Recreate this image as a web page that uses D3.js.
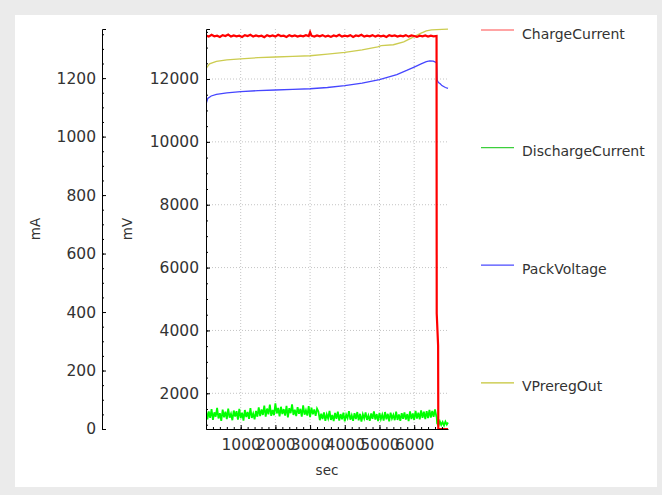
<!DOCTYPE html>
<html>
<head>
<meta charset="utf-8">
<script src="https://cdn.jsdelivr.net/npm/d3@7"></script>
<style>
  body { margin: 0; background: #ebebeb; }
  svg { display: block; font-family: "DejaVu Sans", sans-serif; }
  .axis text { fill: #333; font-size: 15.5px; font-family: "DejaVu Sans", sans-serif; }
  .axis path, .axis line { stroke: #000; }
  .grid line { stroke: #c4c4c4; stroke-dasharray: 1,2; }
  .axis-title { fill: #333; font-size: 13.5px; }
  .legend-label { fill: #333; font-size: 14px; }
</style>
</head>
<body>
<svg id="chart" width="662" height="495"></svg>
<script>
// axis ranges and tick values
const secRange = [0, 6975];
const mARange = [0, 1368];
const mVRange = [864, 13591];
const secTicks = [1000, 2000, 3000, 4000, 5000, 6000];
const mATicks = [0, 200, 400, 600, 800, 1000, 1200];
const mVTicks = [2000, 4000, 6000, 8000, 10000, 12000];

const seriesNames = ['ChargeCurrent', 'DischargeCurrent', 'PackVoltage', 'VPreregOut'];
const seriesColors = ['#ff0000', '#00ff00', '#4646ff', '#cccc50'];
const legendColors = ['#ff4a4a', '#3ccf3c', '#4a4aff', '#c4c436'];

// ChargeCurrent, mA  [sec, value]
const chargeCurrent = [
  [0, 1346], [80, 1342], [160, 1348], [240, 1343], [320, 1345], [400, 1341], [480, 1347],
  [560, 1344], [640, 1349], [720, 1342], [800, 1346], [880, 1343], [960, 1345], [1040, 1341],
  [1120, 1347], [1200, 1344], [1280, 1348], [1360, 1342], [1440, 1346], [1520, 1343],
  [1600, 1345], [1680, 1340], [1760, 1347], [1840, 1343], [1920, 1346], [2000, 1342],
  [2080, 1348], [2160, 1344], [2240, 1345], [2320, 1341], [2400, 1347], [2480, 1343],
  [2560, 1346], [2640, 1342], [2720, 1345], [2800, 1343], [2880, 1347], [2960, 1344],
  [3000, 1357], [3040, 1345], [3120, 1342], [3200, 1346], [3280, 1343], [3360, 1347],
  [3440, 1342], [3520, 1345], [3600, 1341], [3680, 1346], [3760, 1343], [3840, 1348],
  [3920, 1342], [4000, 1345], [4080, 1343], [4160, 1347], [4240, 1341], [4320, 1346],
  [4400, 1344], [4480, 1348], [4560, 1342], [4640, 1345], [4720, 1343], [4800, 1347],
  [4880, 1342], [4960, 1346], [5040, 1343], [5120, 1345], [5200, 1341], [5280, 1347],
  [5360, 1344], [5440, 1346], [5520, 1342], [5600, 1345], [5680, 1343], [5760, 1347],
  [5840, 1342], [5920, 1346], [6000, 1344], [6080, 1341], [6160, 1345], [6240, 1343],
  [6320, 1346], [6400, 1342], [6480, 1345], [6560, 1343], [6645, 1344],
  [6650, 395], [6690, 285], [6695, 0], [6975, 0]
];

// DischargeCurrent, mA, one sample every 40 sec from 0 to 6640
const dischargeStep = 40;
const dischargeCurrent = [
  64, 33, 60, 38, 68, 31, 57, 42, 72, 36, 54, 28, 66, 40, 59, 34, 70, 39, 52, 30,
  63, 43, 61, 32, 69, 37, 56, 29, 65, 41, 58, 35, 71, 38, 53, 33, 62, 42,
  74, 44, 67, 48, 80, 42, 70, 50, 83, 45, 65, 47, 88, 53, 72, 43, 76, 51, 68, 46,
  79, 40, 71, 54, 84, 48, 66, 44, 75, 52, 69, 42, 81, 49, 64, 46, 78, 41, 73, 50, 67, 45, 70,
  60, 30, 52, 34, 57, 28, 50, 36, 62, 31, 48, 27, 55, 35, 59, 29, 51, 33, 56, 26,
  49, 37, 61, 32, 47, 28, 54, 34, 58, 30, 52, 25, 50, 36, 57, 31, 46, 28, 53, 35,
  60, 32, 51, 27, 55, 34, 49, 29, 58, 33, 52, 26, 56, 36, 48, 30, 59, 31, 50, 28,
  54, 35, 57, 32, 51, 27, 60, 34, 53, 31, 62, 36, 56, 33, 64, 38, 59, 34, 61, 37,
  65, 39, 62, 42, 67, 43
];
// DischargeCurrent after the charge stops  [sec, value]
const dischargeTail = [
  [6650, 40], [6660, 20], [6700, 12], [6740, 26], [6780, 14], [6820, 24],
  [6860, 12], [6900, 25], [6940, 15], [6975, 22]
];

// PackVoltage, mV  [sec, value]
const packVoltage = [
  [0, 11200], [50, 11380], [150, 11460], [300, 11510], [600, 11560], [1000, 11600],
  [1500, 11630], [2000, 11650], [2500, 11670], [3000, 11690], [3500, 11730], [4000, 11790],
  [4500, 11870], [5000, 11980], [5500, 12140], [5800, 12280], [6000, 12380], [6200, 12480],
  [6350, 12550], [6450, 12575], [6550, 12570], [6645, 12520], [6652, 12300], [6660, 11970],
  [6700, 11890], [6750, 11850], [6800, 11790], [6900, 11730], [6975, 11700]
];

// VPreregOut, mV  [sec, value]
const vPreregOut = [
  [0, 0], [5, 12340], [100, 12480], [300, 12560], [600, 12610], [1000, 12640],
  [1500, 12680], [2000, 12700], [2500, 12720], [3000, 12740], [3500, 12790], [4000, 12850],
  [4500, 12930], [4950, 13020], [5050, 13060], [5400, 13090], [5700, 13180], [6000, 13350],
  [6200, 13460], [6350, 13530], [6500, 13560], [6650, 13570], [6800, 13580], [6975, 13590]
];

const svg = d3.select('#chart');
const plot = { left: 206, right: 448, top: 29, bottom: 429 };

// panel
svg.append('rect').attr('width', 662).attr('height', 495).attr('fill', '#ebebeb');
svg.append('rect').attr('x', 15).attr('y', 15).attr('width', 642).attr('height', 472).attr('fill', '#fff');

const x = d3.scaleLinear().domain(secRange).range([plot.left, plot.right]);
const yA = d3.scaleLinear().domain(mARange).range([plot.bottom, plot.top]);
const yV = d3.scaleLinear().domain(mVRange).range([plot.bottom, plot.top]);

// grid
const grid = svg.append('g').attr('class', 'grid');
grid.selectAll('.gx').data(secTicks).enter().append('line')
  .attr('x1', d => x(d)).attr('x2', d => x(d))
  .attr('y1', plot.top).attr('y2', plot.bottom);
grid.selectAll('.gy').data(mVTicks).enter().append('line')
  .attr('x1', plot.left).attr('x2', plot.right)
  .attr('y1', d => yV(d)).attr('y2', d => yV(d));

// series
svg.append('clipPath').attr('id', 'clip')
  .append('rect')
  .attr('x', plot.left).attr('y', plot.top - 2)
  .attr('width', plot.right - plot.left + 1).attr('height', plot.bottom - plot.top + 2);

const lineA = d3.line().x(d => x(d[0])).y(d => yA(d[1]));
const lineV = d3.line().x(d => x(d[0])).y(d => yV(d[1]));

const dischargePoints = dischargeCurrent.map((v, i) => [i * dischargeStep, v]).concat(dischargeTail);

const series = svg.append('g').attr('clip-path', 'url(#clip)');
// drawn last series first, so ChargeCurrent ends up on top
series.append('path').datum(vPreregOut)
  .attr('d', lineV).attr('fill', 'none')
  .attr('stroke', seriesColors[3]).attr('stroke-width', 1.3);
series.append('path').datum(packVoltage)
  .attr('d', lineV).attr('fill', 'none')
  .attr('stroke', seriesColors[2]).attr('stroke-width', 1.3);
series.append('path').datum(dischargePoints)
  .attr('d', lineA).attr('fill', 'none')
  .attr('stroke', seriesColors[1]).attr('stroke-width', 1.8);
series.append('path').datum(chargeCurrent)
  .attr('d', lineA).attr('fill', 'none')
  .attr('stroke', seriesColors[0]).attr('stroke-width', 2.2);

// axes
const mAAxisX = 102;
const fmt = d3.format('d');

svg.append('g').attr('class', 'axis')
  .attr('transform', `translate(${mAAxisX},0)`)
  .call(d3.axisLeft(yA).tickValues(d3.range(0, mARange[1], 50)).tickSize(-2).tickFormat(''))
  .call(g => g.select('.domain').remove());
svg.append('g').attr('class', 'axis')
  .attr('transform', `translate(${mAAxisX},0)`)
  .call(d3.axisLeft(yA).tickValues(mATicks).tickFormat(fmt).tickSizeInner(-4).tickSizeOuter(-4).tickPadding(6));

svg.append('g').attr('class', 'axis')
  .attr('transform', `translate(${plot.left},0)`)
  .call(d3.axisLeft(yV).tickValues(d3.range(1000, mVRange[1], 500)).tickSize(-2).tickFormat(''))
  .call(g => g.select('.domain').remove());
svg.append('g').attr('class', 'axis')
  .attr('transform', `translate(${plot.left},0)`)
  .call(d3.axisLeft(yV).tickValues(mVTicks).tickFormat(fmt).tickSizeInner(-4).tickSizeOuter(-4).tickPadding(7));

svg.append('g').attr('class', 'axis')
  .attr('transform', `translate(0,${plot.bottom})`)
  .call(d3.axisBottom(x).tickValues(d3.range(200, secRange[1], 200)).tickSize(-2).tickFormat(''))
  .call(g => g.select('.domain').remove());
svg.append('g').attr('class', 'axis')
  .attr('transform', `translate(0,${plot.bottom})`)
  .call(d3.axisBottom(x).tickValues(secTicks).tickFormat(fmt).tickSizeInner(-4).tickSizeOuter(0).tickPadding(10));

// axis titles
svg.append('text').attr('class', 'axis-title')
  .attr('transform', 'translate(40,229) rotate(-90)')
  .attr('text-anchor', 'middle').text('mA');
svg.append('text').attr('class', 'axis-title')
  .attr('transform', 'translate(132,229) rotate(-90)')
  .attr('text-anchor', 'middle').text('mV');
svg.append('text').attr('class', 'axis-title')
  .attr('x', (plot.left + plot.right) / 2).attr('y', 475)
  .attr('text-anchor', 'middle').text('sec');

// legend
const legend = svg.selectAll('.legend-item')
  .data(seriesNames)
  .enter()
  .append('g')
  .attr('class', 'legend-item')
  .attr('transform', (d, i) => `translate(481,${30 + i * 117.6})`);

legend.append('line')
  .attr('x1', 0).attr('x2', 33)
  .attr('stroke', (d, i) => legendColors[i])
  .attr('stroke-width', 1.2);

legend.append('text')
  .attr('class', 'legend-label')
  .attr('x', 41).attr('y', 8.5)
  .text(d => d);
</script>
</body>
</html>
